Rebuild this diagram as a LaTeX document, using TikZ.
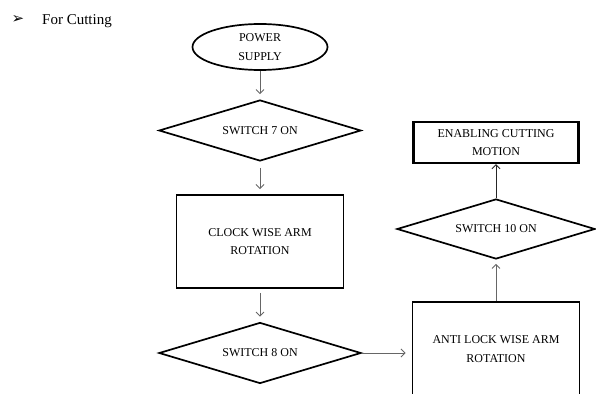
\documentclass[tikz,border=0pt]{standalone}
\usepackage{fontspec}
\setmainfont{Liberation Serif}
\newfontfamily\symfont{DejaVu Sans}
\usetikzlibrary{shapes.geometric,arrows.meta}

\begin{document}
\begin{tikzpicture}[x=1pt,y=-1pt,
  every node/.style={font=\fontsize{12}{18.5}\selectfont, align=center, text=black},
  terminal/.style={draw, ellipse, line width=1.7pt, minimum width=135pt, minimum height=46pt, inner sep=0pt},
  decision/.style={draw, diamond, aspect=3.3, line width=1.7pt, minimum width=202pt, minimum height=61pt, inner sep=0pt},
  process/.style={draw, rectangle, line width=1.9pt, minimum width=167pt, minimum height=93pt, inner sep=0pt},
  flow/.style={-{Straight Barb[length=4pt,width=8pt]}, draw=black!60, line width=0.9pt}]
\useasboundingbox (0,0) rectangle (596,393);
\clip (0,0) rectangle (596,393);
% heading
\node[font=\symfont\fontsize{15}{18}\selectfont, inner sep=0pt] (bullet) at (18,20) {➢};
\node[anchor=base west, inner sep=0pt, font=\fontsize{15}{18}\selectfont] (title) at (42,25) {For Cutting};
% left column
\node[terminal] (power) at (260,47) {POWER\\SUPPLY};
\node[decision] (sw7) at (260,130.5) {SWITCH 7 ON};
\node[process] (cw) at (260,241.5) {CLOCK WISE ARM\\ROTATION};
\node[decision] (sw8) at (260,353) {SWITCH 8 ON};
% right column
\node[process, minimum height=94pt] (acw) at (496,349) {ANTI LOCK WISE ARM\\ROTATION};
\node[decision, minimum width=198pt, minimum height=60pt] (sw10) at (496,229) {SWITCH 10 ON};
\node[process, minimum width=165pt, minimum height=41pt, line width=2.4pt] (cut) at (496,142.5) {ENABLING CUTTING\\MOTION};
% connectors
\draw[flow, shorten >=5pt] (power) -- (sw7);
\draw[flow, shorten <=6pt, shorten >=5pt] (sw7) -- (cw);
\draw[flow, shorten <=4pt, shorten >=5pt] (cw) -- (sw8);
\draw[flow, shorten >=6pt] (sw8.east) -- (sw8.east -| acw.west);
\draw[flow, shorten >=4pt] (acw) -- (sw10);
\draw[flow, draw=black!85] (sw10) -- (cut);
\end{tikzpicture}
\end{document}
